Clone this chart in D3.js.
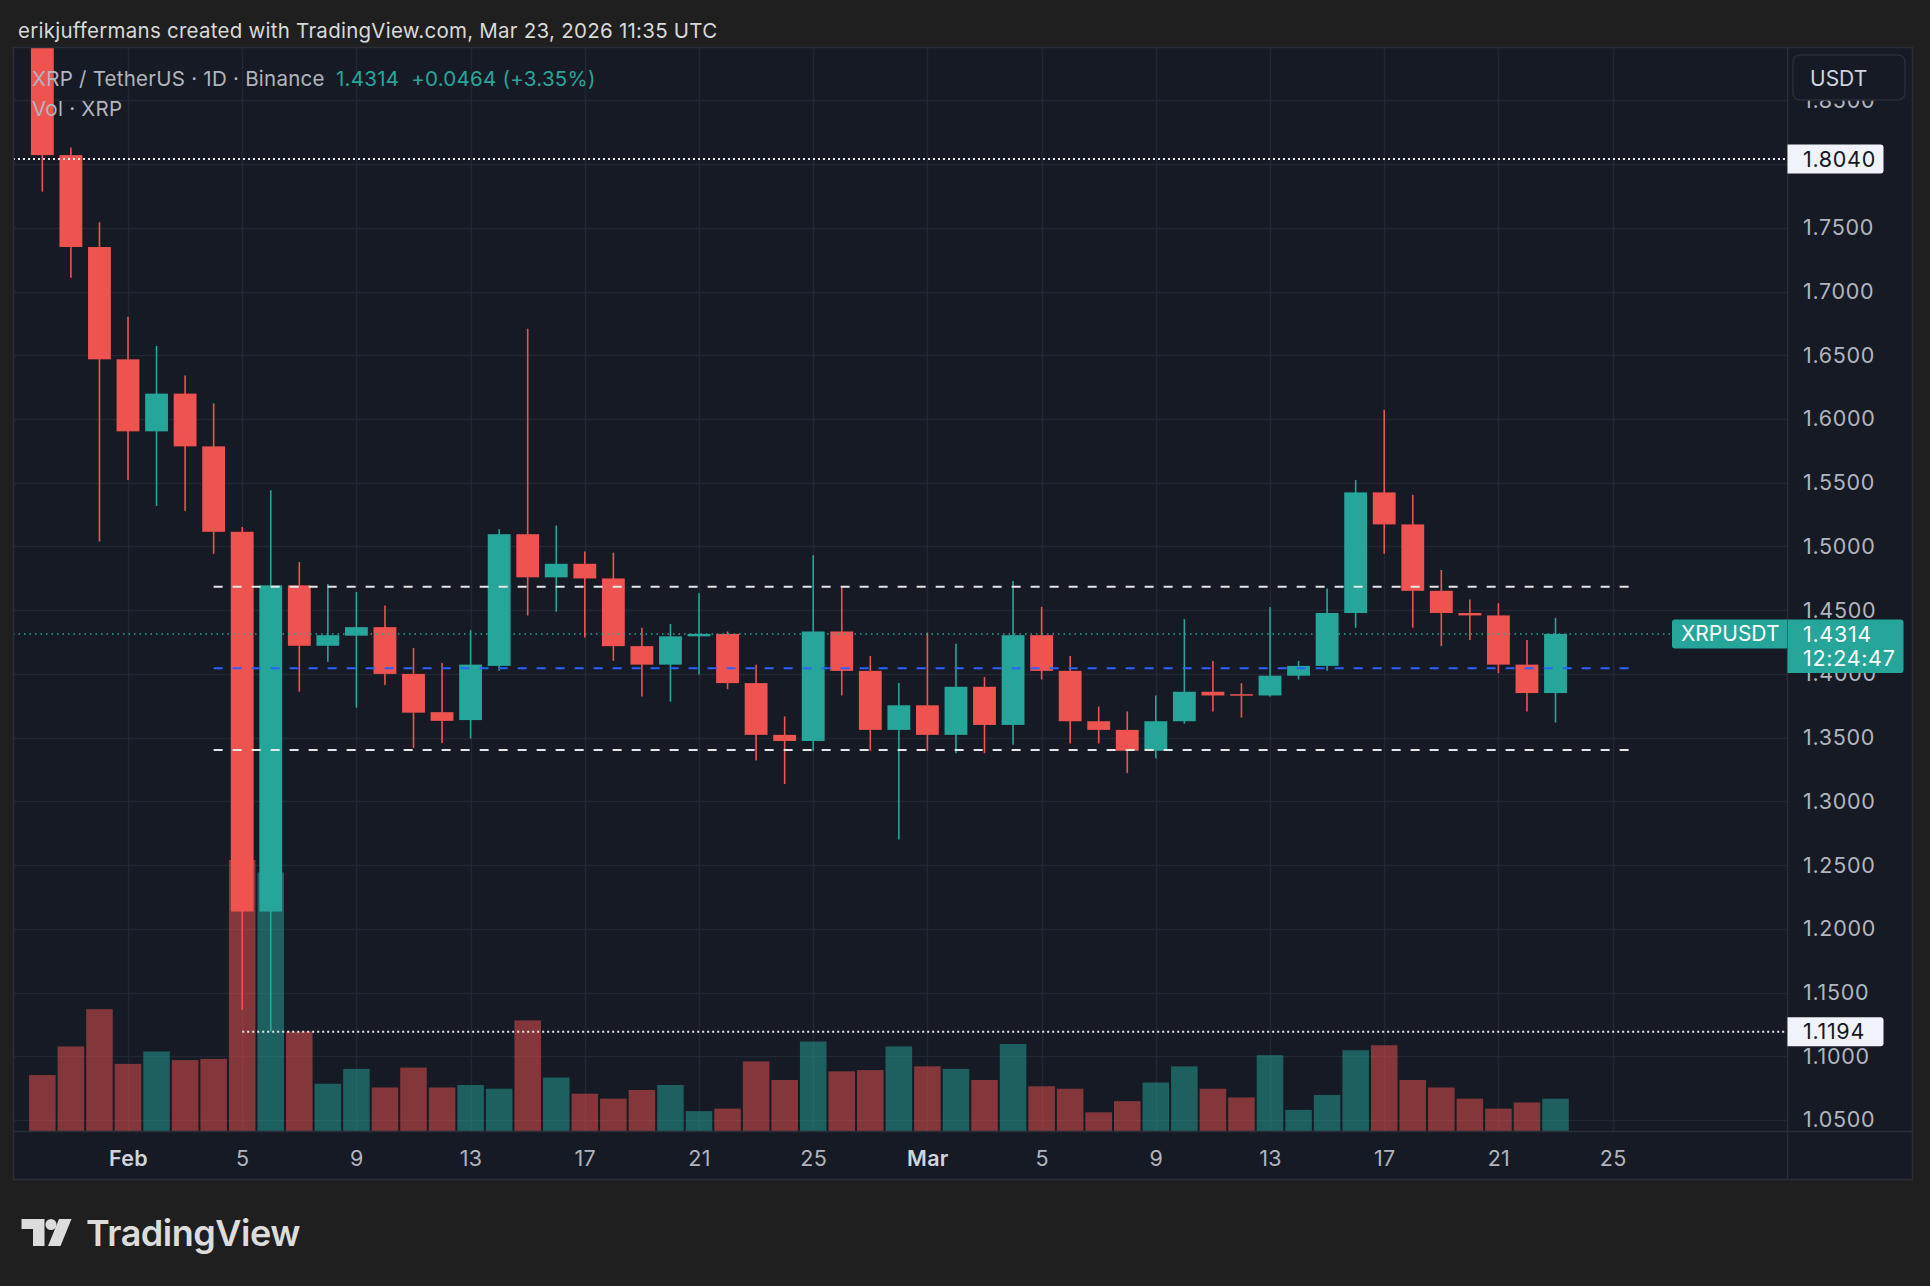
<!DOCTYPE html>
<html><head><meta charset="utf-8">
<script src="https://cdn.jsdelivr.net/npm/d3@7"></script>
<style>
html,body{margin:0;padding:0;background:#1f1f1f;overflow:hidden;}
svg{display:block;}
text{font-family:Inter,"Noto Sans",sans-serif;}
</style></head><body>
<svg id="c" width="1930" height="1286"></svg>
<script>
// ---------------- DATA ----------------
const dates = ["2026-01-29","2026-01-30","2026-01-31","2026-02-01","2026-02-02","2026-02-03","2026-02-04",
"2026-02-05","2026-02-06","2026-02-07","2026-02-08","2026-02-09","2026-02-10","2026-02-11","2026-02-12","2026-02-13","2026-02-14",
"2026-02-15","2026-02-16","2026-02-17","2026-02-18","2026-02-19","2026-02-20","2026-02-21","2026-02-22","2026-02-23","2026-02-24",
"2026-02-25","2026-02-26","2026-02-27","2026-02-28","2026-03-01","2026-03-02","2026-03-03","2026-03-04","2026-03-05","2026-03-06",
"2026-03-07","2026-03-08","2026-03-09","2026-03-10","2026-03-11","2026-03-12","2026-03-13","2026-03-14","2026-03-15","2026-03-16",
"2026-03-17","2026-03-18","2026-03-19","2026-03-20","2026-03-21","2026-03-22","2026-03-23"];
const open  = [1.9050,1.8070,1.7349,1.6468,1.5903,1.6199,1.5785,
1.5115,1.2136,1.4695,1.4221,1.4300,1.4367,1.4000,1.3700,1.3638,1.4063,
1.5096,1.4758,1.4864,1.4749,1.4218,1.4073,1.4295,1.4314,1.3928,1.3522,
1.3474,1.4333,1.4024,1.3561,1.3754,1.3522,1.3899,1.3600,1.4304,1.4024,
1.3629,1.3561,1.3397,1.3629,1.3860,1.3841,1.3831,1.3986,1.4063,1.4478,
1.5424,1.5173,1.4652,1.4478,1.4459,1.4073,1.3850];
const high  = [1.9250,1.8130,1.7544,1.6802,1.6572,1.6342,1.6122,
1.5152,1.5441,1.4878,1.4705,1.4642,1.4536,1.4203,1.4085,1.4343,1.5135,
1.6708,1.5164,1.4961,1.4951,1.4362,1.4391,1.4633,1.4333,1.4073,1.3667,
1.4932,1.4681,1.4140,1.3928,1.4324,1.4237,1.3976,1.4729,1.4526,1.4140,
1.3744,1.3706,1.3831,1.4430,1.4102,1.3928,1.4526,1.4102,1.4671,1.5521,
1.6071,1.5405,1.4816,1.4584,1.4555,1.4266,1.4440];
const low   = [1.7783,1.7108,1.5038,1.5521,1.5318,1.5279,1.4942,
1.1365,1.1194,1.3860,1.4096,1.3735,1.3914,1.3420,1.3459,1.3493,1.4024,
1.4459,1.4488,1.4285,1.4102,1.3822,1.3783,1.3995,1.3880,1.3320,1.3136,
1.3397,1.3831,1.3397,1.2702,1.3397,1.3378,1.3378,1.3445,1.3957,1.3455,
1.3455,1.3223,1.3339,1.3609,1.3706,1.3658,1.3822,1.3957,1.4024,1.4362,
1.4942,1.4362,1.4218,1.4266,1.4005,1.3706,1.3619];
const close = [1.8070,1.7349,1.6468,1.5903,1.6199,1.5785,1.5115,
1.2136,1.4695,1.4221,1.4304,1.4367,1.4000,1.3696,1.3632,1.4073,1.5096,
1.4758,1.4864,1.4749,1.4218,1.4073,1.4295,1.4314,1.3928,1.3522,1.3474,
1.4333,1.4024,1.3561,1.3754,1.3522,1.3899,1.3600,1.4304,1.4024,1.3629,
1.3561,1.3397,1.3629,1.3860,1.3831,1.3831,1.3986,1.4063,1.4478,1.5424,
1.5173,1.4652,1.4478,1.4459,1.4073,1.3850,1.4314];
// volume, millions XRP
const volume = [225,340,490,270,320,285,290,
1090,1040,400,190,250,175,255,175,185,170,
445,215,150,130,165,185,80,90,280,205,
360,240,245,340,260,250,205,350,180,170,
75,120,195,260,170,135,305,85,145,325,
345,205,175,130,90,115,130];

const priceTicks = [1.05,1.10,1.15,1.20,1.25,1.30,1.35,1.40,1.45,1.50,1.55,1.60,1.65,1.70,1.75,1.80,1.85];
const hiddenTickLabels = [1.80];   // fully covered by the 1.8040 marker in the reference
const dateTicks = ["2026-02-01","2026-02-05","2026-02-09","2026-02-13","2026-02-17","2026-02-21","2026-02-25",
"2026-03-01","2026-03-05","2026-03-09","2026-03-13","2026-03-17","2026-03-21","2026-03-25"];
const dateTickLabels = ["Feb","5","9","13","17","21","25","Mar","5","9","13","17","21","25"];
const monthLabels = ["Feb","Mar"];

const rangeLevels = [1.4684, 1.3403];     // white dashed
const midLevel = [1.4044];               // blue dashed
const rangeFrom = "2026-02-04T00:00Z", rangeTo = "2026-03-25T17:00Z";
const markHigh = 1.8040, markLow = 1.1194, markLowFrom = "2026-02-05";
const lastPrice = 1.4314, change = 0.0464, changePct = 3.35, countdown = "12:24:47";
const titleText = "erikjuffermans created with TradingView.com, Mar 23, 2026 11:35 UTC";
const symbolText = "XRP / TetherUS · 1D · Binance";
const volText = "Vol · XRP";

// ---------------- LAYOUT ----------------
const W = 1930, H = 1286;
const L = 13, R = 1787, T = 47, B = 1131, AXR = 1913, AXB = 1180;
const DAY = 86400000;
const feb1 = Date.UTC(2026,1,1);
const BG = "#161a25", GRID = "#232733", BORDER = "#2a2e39";
const UP = "#26a69a", DOWN = "#ef5350", TXT = "#b2b5be";
const AXFONT = "21.5px", AXLS = "0.7px";
const HDFONT = "20.5px", HDLS = "0.25px";

const parse = s => new Date(s.length > 10 ? s : s + "T00:00Z");
const data = dates.map((d,i)=>({date:parse(d), o:open[i], h:high[i], l:low[i], c:close[i], v:volume[i]}));

const x = d3.scaleUtc().domain([new Date(feb1 - 4.028*DAY), new Date(feb1 + 58.108*DAY)]).range([L, R]);
const y = d3.scaleLinear().domain([1.04145, 1.8918]).range([B, T]);
const vy = d3.scaleLinear().domain([0, d3.max(volume)]).range([B, 860]);
const step = x(new Date(feb1 + DAY)) - x(new Date(feb1));

const svg = d3.select("#c");
svg.append("rect").attr("width",W).attr("height",H).attr("fill","#1f1f1f");
svg.append("rect").attr("x",L).attr("y",T).attr("width",AXR-L).attr("height",AXB-T).attr("fill",BG);

const defs = svg.append("defs");
defs.append("clipPath").attr("id","plot").append("rect").attr("x",L).attr("y",T).attr("width",R-L).attr("height",B-T);

const plot = svg.append("g").attr("clip-path","url(#plot)");

// grid
plot.append("g").selectAll("line").data(priceTicks).join("line")
  .attr("x1",L).attr("x2",R).attr("y1",d=>Math.round(y(d))+0.5).attr("y2",d=>Math.round(y(d))+0.5)
  .attr("stroke",GRID).attr("stroke-width",1.5);
plot.append("g").selectAll("line").data(dateTicks).join("line")
  .attr("y1",T).attr("y2",B).attr("x1",d=>Math.round(x(parse(d)))+0.5).attr("x2",d=>Math.round(x(parse(d)))+0.5)
  .attr("stroke",GRID).attr("stroke-width",1.5);

// volume
const vw = step - 2;
plot.append("g").selectAll("rect").data(data).join("rect")
  .attr("x",d=>x(d.date)-vw/2).attr("width",vw)
  .attr("y",d=>vy(d.v)).attr("height",d=>B-vy(d.v))
  .attr("fill",d=>d.c>=d.o?UP:DOWN).attr("fill-opacity",0.5);

// candles
const bw = step*0.8;
const cg = plot.append("g");
cg.selectAll("line").data(data).join("line")
  .attr("x1",d=>x(d.date)).attr("x2",d=>x(d.date))
  .attr("y1",d=>y(d.h)).attr("y2",d=>y(d.l))
  .attr("stroke",d=>d.c>=d.o?UP:DOWN).attr("stroke-width",1.6);
cg.selectAll("rect").data(data).join("rect")
  .attr("x",d=>x(d.date)-bw/2).attr("width",bw)
  .attr("y",d=>y(Math.max(d.o,d.c)))
  .attr("height",d=>Math.max(1.5, Math.abs(y(d.o)-y(d.c))))
  .attr("fill",d=>d.c>=d.o?UP:DOWN);

// range lines
const lg = plot.append("g");
lg.selectAll("line.rng").data(rangeLevels).join("line").attr("class","rng")
  .attr("x1",x(parse(rangeFrom))).attr("x2",x(parse(rangeTo)))
  .attr("y1",d=>y(d)).attr("y2",d=>y(d))
  .attr("stroke","#e6e6e6").attr("stroke-width",2).attr("stroke-dasharray","9 10");
lg.selectAll("line.mid").data(midLevel).join("line").attr("class","mid")
  .attr("x1",x(parse(rangeFrom))).attr("x2",x(parse(rangeTo)))
  .attr("y1",d=>y(d)).attr("y2",d=>y(d))
  .attr("stroke","#2962ff").attr("stroke-width",2).attr("stroke-dasharray","9 10");
// high/low marks
lg.append("line").attr("x1",L).attr("x2",R).attr("y1",y(markHigh)).attr("y2",y(markHigh))
  .attr("stroke","#e8e8e8").attr("stroke-width",2).attr("stroke-dasharray","2 3");
lg.append("line").attr("x1",x(parse(markLowFrom))).attr("x2",R).attr("y1",y(markLow)).attr("y2",y(markLow))
  .attr("stroke","#e8e8e8").attr("stroke-width",2).attr("stroke-dasharray","2 3");
// last price line
lg.append("line").attr("x1",L).attr("x2",R).attr("y1",y(lastPrice)).attr("y2",y(lastPrice))
  .attr("stroke",UP).attr("stroke-width",1.5).attr("stroke-dasharray","1.5 4");

// borders
svg.append("line").attr("x1",R+0.5).attr("x2",R+0.5).attr("y1",T).attr("y2",AXB).attr("stroke",BORDER).attr("stroke-width",1.5);
svg.append("line").attr("x1",L).attr("x2",AXR).attr("y1",B+0.5).attr("y2",B+0.5).attr("stroke",BORDER).attr("stroke-width",1.5);
svg.append("rect").attr("x",L+0.5).attr("y",T+0.5).attr("width",AXR-L-1).attr("height",AXB-T-1)
  .attr("fill","none").attr("stroke",BORDER).attr("stroke-width",1.5);

// y axis
const ya = svg.append("g").attr("transform",`translate(${R},0)`)
  .call(d3.axisRight(y).tickValues(priceTicks.filter(p=>!hiddenTickLabels.includes(p)))
    .tickFormat(d3.format(".4f")).tickSize(0).tickPadding(16));
ya.select(".domain").remove();
ya.selectAll("text").attr("fill",TXT).style("font-size",AXFONT).style("letter-spacing",AXLS).style("font-family","Inter");

// x axis
const xa = svg.append("g").attr("transform",`translate(0,${B})`)
  .call(d3.axisBottom(x).tickValues(dateTicks.map(parse)).tickFormat((d,i)=>dateTickLabels[i]).tickSize(0));
xa.select(".domain").remove();
xa.selectAll("text").attr("y",27.5).attr("dy","0.35em")
  .style("font-size",AXFONT).style("letter-spacing","0.3px").style("font-family","Inter")
  .style("font-weight",(d,i)=>monthLabels.includes(dateTickLabels[i])?"600":"400")
  .attr("fill",(d,i)=>monthLabels.includes(dateTickLabels[i])?"#d1d4dc":TXT);

// label boxes
function boxRight(x0,y0,w,h,r){return `M${x0},${y0}H${x0+w-r}Q${x0+w},${y0} ${x0+w},${y0+r}V${y0+h-r}Q${x0+w},${y0+h} ${x0+w-r},${y0+h}H${x0}Z`;}
function boxLeft(x0,y0,w,h,r){return `M${x0+w},${y0}V${y0+h}H${x0+r}Q${x0},${y0+h} ${x0},${y0+h-r}V${y0+r}Q${x0},${y0} ${x0+r},${y0}Z`;}

[markHigh, markLow].forEach(p=>{
  const cy = y(p);
  svg.append("path").attr("d",boxRight(R+0.5,cy-14.5,96,29,3)).attr("fill","#f0f3fa");
  svg.append("text").attr("x",R+16).attr("y",cy).attr("dy","0.36em").attr("fill","#131722")
    .style("font-size",AXFONT).style("letter-spacing",AXLS).text(d3.format(".4f")(p));
});

// last price
{
  const cy = y(lastPrice);
  svg.append("path").attr("d",boxLeft(1672,cy-14.5,R-1672,29,3)).attr("fill",UP);
  svg.append("text").attr("x",1681).attr("y",cy).attr("dy","0.36em").attr("fill","#ffffff")
    .style("font-size","21px").text("XRPUSDT");
  svg.append("path").attr("d",boxRight(R+0.5,cy-14.5,116,53.5,3)).attr("fill",UP);
  svg.append("text").attr("x",R+16).attr("y",cy).attr("dy","0.36em").attr("fill","#ffffff")
    .style("font-size",AXFONT).style("letter-spacing",AXLS).text(d3.format(".4f")(lastPrice));
  svg.append("text").attr("x",R+16).attr("y",cy+24).attr("dy","0.36em").attr("fill","#ffffff")
    .style("font-size",AXFONT).style("letter-spacing",AXLS).text(countdown);
}

// USDT button
svg.append("rect").attr("x",1793).attr("y",55).attr("width",112).attr("height",45).attr("rx",7)
  .attr("fill",BG).attr("stroke",BORDER).attr("stroke-width",1.5);
svg.append("text").attr("x",1810).attr("y",78).attr("dy","0.36em").attr("fill","#d1d4dc")
  .style("font-size","21px").text("USDT");

// header / legend
const hd = (t)=>t.style("font-size",HDFONT).style("letter-spacing",HDLS);
hd(svg.append("text").attr("x",18).attr("y",38).attr("fill","#d9d9d9").text(titleText));
hd(svg.append("text").attr("x",32).attr("y",86).attr("fill",TXT).text(symbolText));
hd(svg.append("text").attr("x",336).attr("y",86).attr("fill",UP)
  .attr("xml:space","preserve").style("white-space","pre")
  .text(`${d3.format(".4f")(lastPrice)}  ${d3.format("+.4f")(change)} (${d3.format("+.2f")(changePct)}%)`));
hd(svg.append("text").attr("x",32).attr("y",116).attr("fill",TXT).text(volText));

// TradingView logo
const logo = svg.append("g").attr("transform","translate(21.5,1219)").attr("fill","#dcdcdc");
logo.append("path").attr("d","M0,0H23V27H11.5V10H0Z");
logo.append("circle").attr("cx",29.5).attr("cy",5.5).attr("r",5.5);
logo.append("path").attr("d","M37.5,0H50L39,27H26.5Z");
svg.append("text").attr("x",86).attr("y",1246).attr("fill","#dcdcdc")
  .style("font-size","36px").style("font-weight","600").style("letter-spacing","-0.5px").text("TradingView");
</script>
</body></html>
